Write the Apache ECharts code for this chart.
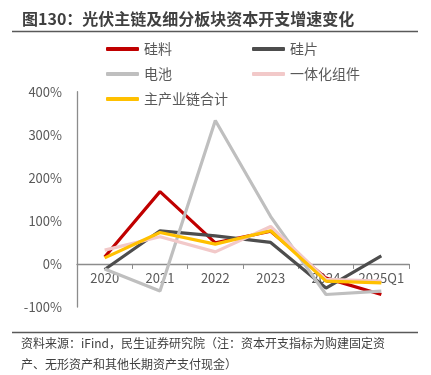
<!DOCTYPE html>
<html><head><meta charset="utf-8">
<script src="https://cdn.jsdelivr.net/npm/echarts@6/dist/echarts.min.js"></script>
<style>html,body{margin:0;padding:0;background:#fff}#c{width:431px;height:375px}</style>
</head><body><div id="c"></div>
<script>
const categories = ['2020','2021','2022','2023','2024','2025Q1'];
const silicon = [16, 168, 49, 76, -33, -71];       // 硅料
const wafer = [-13, 77, 65, 50, -56, 19];          // 硅片
const cell = [-12, -63, 333, 110, -71, -63];       // 电池
const module_ = [32, 63, 28, 87, -36, -40];        // 一体化组件
const total = [14, 73, 46, 77, -40, -44];          // 主产业链合计
const yTicks = [-100, 0, 100, 200, 300, 400];
const seriesNames = ['硅料','硅片','电池','一体化组件','主产业链合计'];
const colors = ['#C00000','#4D4D4D','#BFBFBF','#F2C9C9','#FFC000'];

const FONT = '"Noto Sans CJK SC", "Noto Sans", sans-serif';
const chart = echarts.init(document.getElementById('c'), null, {renderer:'canvas'});
const dataList = [silicon, wafer, cell, module_, total];
const legendText = {color:'#595959', fontSize:14, fontFamily:FONT};
const gridTop = 91.7, gridBottom = 68, H = 375;
const plotH = H - gridTop - gridBottom;
const zeroOffset = -plotH * (0 - yTicks[0]) / (yTicks[yTicks.length-1] - yTicks[0]);
chart.setOption({
  animation:false,
  textStyle:{fontFamily:FONT},
  grid:{left:77, right:22, top:gridTop, bottom:gridBottom, containLabel:false},
  legend:[
    {orient:'vertical', left:101, top:37, itemWidth:33, itemHeight:4, itemGap:11, icon:'roundRect',
     data:['硅料','电池','主产业链合计'], textStyle:legendText},
    {orient:'vertical', left:247, top:37, itemWidth:33, itemHeight:4, itemGap:11, icon:'roundRect',
     data:['硅片','一体化组件'], textStyle:legendText}
  ],
  xAxis:{type:'category', data:categories, boundaryGap:true, offset:zeroOffset,
    axisLine:{onZero:false, lineStyle:{color:'#8C8C8C', width:1.3}},
    axisTick:{show:true, inside:false, length:5, lineStyle:{color:'#8C8C8C'}},
    axisLabel:{color:'#595959', fontSize:13, margin:8, interval:0, fontFamily:FONT}},
  yAxis:{type:'value', min:yTicks[0], max:yTicks[yTicks.length-1], interval:100,
    splitLine:{show:false},
    axisLine:{show:true, lineStyle:{color:'#8C8C8C', width:1.3}},
    axisTick:{show:false},
    axisLabel:{color:'#595959', fontSize:13, margin:15, formatter:v=>v+'%', fontFamily:FONT}},
  series: seriesNames.map((n,i)=>({name:n, type:'line', data:dataList[i], symbol:'none',
    lineStyle:{width:3.2, color:colors[i]}, itemStyle:{color:colors[i]}, z:2+i})),
  graphic:[
    {type:'text', left:22, top:11, style:{text:'图130：光伏主链及细分板块资本开支增速变化', fill:'#404040', font:'bold 16px '+FONT}},
    {type:'line', shape:{x1:12, y1:31.5, x2:418, y2:31.5}, style:{stroke:'#595959', lineWidth:1.5}},
    {type:'line', shape:{x1:12, y1:332.5, x2:418, y2:332.5}, style:{stroke:'#595959', lineWidth:1.5}},
    {type:'text', left:21, top:337, style:{text:'资料来源：iFind，民生证券研究院（注：资本开支指标为购建固定资', fill:'#404040', font:'12px '+FONT}},
    {type:'text', left:21, top:358, style:{text:'产、无形资产和其他长期资产支付现金）', fill:'#404040', font:'12px '+FONT}}
  ]
});
</script></body></html>
